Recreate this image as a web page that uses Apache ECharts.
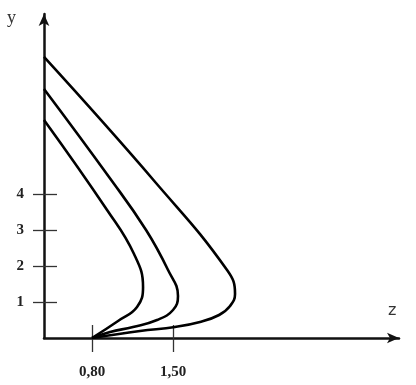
<!DOCTYPE html>
<html>
<head>
<meta charset="utf-8">
<script src="https://cdn.jsdelivr.net/npm/echarts@6/dist/echarts.min.js"></script>
<style>
  html, body { margin: 0; padding: 0; background: #fff; }
  #chart { width: 416px; height: 385px; }
</style>
</head>
<body>
<div id="chart"></div>
<script>
// 三条曲线的数据 (z, y)
const curveInner = [
  [0.800, 0.000], [1.025, 0.472], [1.189, 0.861], [1.241, 1.417],
  [1.163, 2.333], [0.930, 3.556], [0.385, 6.056]
];
const curveMiddle = [
  [0.800, 0.000], [0.956, 0.167], [1.154, 0.306], [1.362, 0.500], [1.500, 0.778],
  [1.543, 1.167], [1.457, 1.889], [1.267, 3.000], [0.947, 4.472], [0.385, 6.917]
];
const curveOuter = [
  [0.800, 0.000], [1.215, 0.194], [1.517, 0.306], [1.733, 0.444], [1.898, 0.639],
  [1.993, 0.889], [2.036, 1.222], [1.967, 1.889], [1.353, 4.306], [0.385, 7.806]
];
const yTicks = [1, 2, 3, 4];
const zTicks = [0.80, 1.50];

const zMin = 0.385, zMax = 3.453;
const yMin = 0, yMax = 9;

const serif = 'Liberation Serif';
const axisColor = '#111';

const chart = echarts.init(document.getElementById('chart'));

// 画一条曲线
const makeLine = (data) => ({
  type: 'line',
  data: data,
  smooth: 0.45,
  showSymbol: false,
  xAxisIndex: 0,
  yAxisIndex: 0,
  lineStyle: { color: '#000', width: 2.6 },
  silent: true
});

const option = {
  animation: false,
  backgroundColor: '#fff',
  grid: { left: 44, right: 17, top: 14, bottom: 47 },
  xAxis: [
    {
      type: 'value', min: zMin, max: zMax,
      axisLine: { show: true, symbol: ['none', 'arrow'], symbolSize: [8, 12],
        lineStyle: { color: axisColor, width: 2.5 } },
      axisTick: { show: true, length: 14, customValues: zTicks, lineStyle: { color: '#333', width: 1.3 } },
      axisLabel: { show: true, customValues: zTicks, margin: 27, color: '#222',
        fontFamily: serif, fontSize: 15, fontWeight: 'bold',
        formatter: (v) => v.toFixed(2).replace('.', ',') },
      splitLine: { show: false }
    },
    {
      type: 'value', min: zMin, max: zMax, position: 'bottom',
      axisLine: { show: false },
      axisTick: { show: true, inside: true, length: 13, customValues: zTicks, lineStyle: { color: '#333', width: 1.3 } },
      axisLabel: { show: false },
      splitLine: { show: false }
    }
  ],
  yAxis: [
    {
      type: 'value', min: yMin, max: yMax,
      axisLine: { show: true, symbol: ['none', 'arrow'], symbolSize: [8, 12],
        lineStyle: { color: axisColor, width: 2.5 } },
      axisTick: { show: true, length: 11, customValues: yTicks, lineStyle: { color: '#333', width: 1.3 } },
      axisLabel: { show: true, customValues: yTicks, margin: 20, color: '#222',
        fontFamily: serif, fontSize: 15, fontWeight: 'bold' },
      splitLine: { show: false }
    },
    {
      type: 'value', min: yMin, max: yMax, position: 'left',
      axisLine: { show: false },
      axisTick: { show: true, inside: true, length: 13, customValues: yTicks, lineStyle: { color: '#333', width: 1.3 } },
      axisLabel: { show: false },
      splitLine: { show: false }
    }
  ],
  graphic: [
    { type: 'text', left: 7, top: 9, style: { text: 'y', font: '18px "Liberation Serif"', fill: '#333' } },
    { type: 'text', left: 388, top: 303, style: { text: 'z', font: '16px "DejaVu Sans"', fill: '#333' } }
  ],
  series: [makeLine(curveInner), makeLine(curveMiddle), makeLine(curveOuter)]
};

chart.setOption(option);
</script>
</body>
</html>
